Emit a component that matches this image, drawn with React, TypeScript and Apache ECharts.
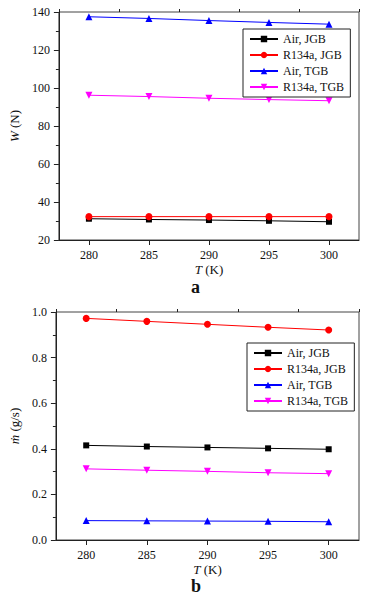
import React, { useEffect, useRef } from "react";
import * as echarts from "echarts";

const temps = [280, 285, 290, 295, 300];
const seriesNames = ["Air, JGB", "R134a, JGB", "Air, TGB", "R134a, TGB"];
const colors = ["#000000", "#ff0000", "#0000ff", "#ff00ff"];
const symbols = ["rect", "circle", "triangle", "triangle"];
const rotations = [0, 0, 0, 180];

// Panel a: W (N)
const wAirJGB = [31.2, 30.8, 30.5, 30.1, 29.6];
const wR134aJGB = [32.3, 32.3, 32.3, 32.3, 32.3];
const wAirTGB = [137.5, 136.6, 135.5, 134.5, 133.6];
const wR134aTGB = [96.2, 95.5, 94.6, 93.9, 93.3];

// Panel b: m (g/s)
const mAirJGB = [0.415, 0.410, 0.406, 0.402, 0.398];
const mR134aJGB = [0.972, 0.959, 0.946, 0.933, 0.921];
const mAirTGB = [0.085, 0.084, 0.083, 0.082, 0.080];
const mR134aTGB = [0.312, 0.306, 0.301, 0.295, 0.291];

const xMajor = [280, 285, 290, 295, 300];
const xMinor = [277.5, 282.5, 287.5, 292.5, 297.5, 302.5];

const FONT = "Liberation Serif";

export default function App() {
  const ref = useRef<HTMLDivElement>(null);
  useEffect(() => {
    document.body.style.margin = "0";
    const chart = echarts.init(ref.current!, null, { renderer: "svg" });
    const gridTops = [12, 312];
    const panelA = [wAirJGB, wR134aJGB, wAirTGB, wR134aTGB];
    const panelB = [mAirJGB, mR134aJGB, mAirTGB, mR134aTGB];

    const mkX = (gi: number, minor: boolean) => ({
      type: "value",
      gridIndex: gi,
      min: 277.5,
      max: 302.5,
      splitLine: { show: false },
      axisLine: { show: !minor, lineStyle: { color: "#222", width: 1 } },
      axisTick: {
        show: true,
        length: minor ? 3 : 5,
        customValues: minor ? xMinor : xMajor,
        lineStyle: { color: "#222" },
      },
      axisLabel: minor
        ? { show: false }
        : {
            show: true,
            customValues: xMajor,
            fontFamily: FONT,
            fontSize: 12,
            color: "#111",
            margin: 9,
          },
      name: minor ? "" : "{i|T} (K)",
      nameLocation: "middle",
      nameGap: 23,
      nameTextStyle: {
        fontFamily: FONT,
        fontSize: 13,
        color: "#111",
        rich: { i: { fontStyle: "italic", fontFamily: FONT, fontSize: 13, color: "#111" } },
      },
    });

    const mkY = (gi: number, min: number, max: number, interval: number, name: string, dec: number) => ({
      type: "value",
      gridIndex: gi,
      min,
      max,
      interval,
      splitLine: { show: false },
      axisLine: { show: true, lineStyle: { color: "#222", width: 1 } },
      axisTick: { show: true, length: 5, lineStyle: { color: "#222" } },
      minorTick: { show: true, splitNumber: 2, length: 3, lineStyle: { color: "#222" } },
      axisLabel: {
        fontFamily: FONT,
        fontSize: 12,
        color: "#111",
        margin: 9,
        formatter: (v: number) => v.toFixed(dec),
      },
      name,
      nameLocation: "middle",
      nameGap: 28,
      nameTextStyle: {
        fontFamily: FONT,
        fontSize: 13,
        color: "#111",
        rich: { i: { fontStyle: "italic", fontFamily: FONT, fontSize: 13, color: "#111" } },
      },
    });

    const series: any[] = [];
    [panelA, panelB].forEach((panel, gi) => {
      panel.forEach((vals, si) => {
        series.push({
          type: "line",
          name: seriesNames[si],
          xAxisIndex: gi * 2,
          yAxisIndex: gi,
          data: temps.map((t, k) => [t, vals[k]]),
          symbol: symbols[si],
          symbolSize: si === 0 ? 6 : 7,
          symbolRotate: rotations[si],
          showSymbol: true,
          lineStyle: { color: colors[si], width: 1 },
          itemStyle: { color: colors[si] },
          z: 3,
        });
      });
    });

    const mkLegend = (left: number, top: number) => ({
      data: seriesNames,
      orient: "vertical",
      left,
      top,
      backgroundColor: "#fff",
      borderColor: "#222",
      borderWidth: 1,
      borderRadius: 0,
      padding: [3, 6, 3, 6],
      itemWidth: 28,
      itemHeight: 8,
      itemGap: 2,
      textStyle: { fontFamily: FONT, fontSize: 12, color: "#111", lineHeight: 14, padding: [0, 0, 0, 0] },
      selectedMode: false,
    });

    chart.setOption({
      animation: false,
      backgroundColor: "#fff",
      grid: gridTops.map((t) => ({
        left: 46,
        right: 11,
        top: t,
        height: 228,
        show: true,
        borderColor: "#444",
        borderWidth: 1,
        backgroundColor: "transparent",
      })),
      xAxis: [mkX(0, false), mkX(0, true), mkX(1, false), mkX(1, true)],
      yAxis: [
        mkY(0, 20, 140, 20, "{i|W} (N)", 0),
        mkY(1, 0, 1.0, 0.2, "{i|ṁ} (g/s)", 1),
      ],
      legend: [mkLegend(243, 29), mkLegend(247, 343)],
      series,
      graphic: [
        {
          type: "text",
          left: 191,
          top: 278,
          style: { text: "a", font: `bold 18px "${FONT}"`, fill: "#111" },
        },
        {
          type: "text",
          left: 191,
          top: 577,
          style: { text: "b", font: `bold 18px "${FONT}"`, fill: "#111" },
        },
      ],
    });
    return () => chart.dispose();
  }, []);
  return <div ref={ref} style={{ width: 370, height: 600 }} />;
}
